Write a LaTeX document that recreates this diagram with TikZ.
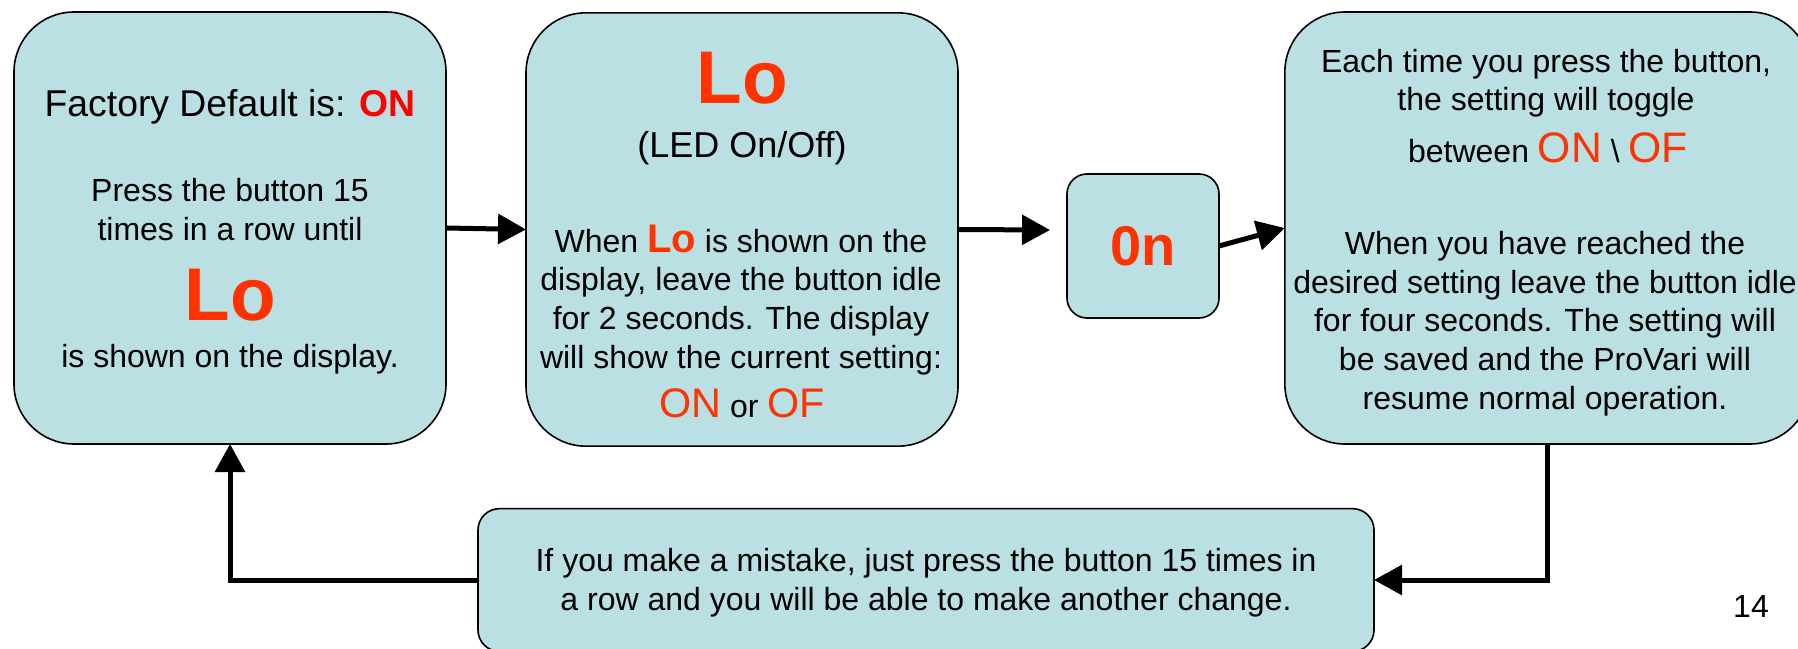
\documentclass[tikz,border=0pt]{standalone}
\usepackage{fontspec}
\setmainfont{Liberation Sans}
\usetikzlibrary{arrows.meta}
\definecolor{boxfill}{RGB}{186,224,227}
\definecolor{lored}{RGB}{255,51,0}
\definecolor{onred}{RGB}{255,0,0}
\begin{document}
\begin{tikzpicture}[x=0.75pt, y=-0.75pt,
      box/.style = {draw, line width=1.2pt, fill=boxfill, rounded corners=45pt,
                    outer sep=0pt, inner sep=0pt},
      txt/.style = {font=\fontsize{24}{29}\selectfont, align=center, anchor=base, inner sep=0pt},
      big/.style = {txt, font=\fontsize{56}{60}\selectfont\bfseries, text=lored},
      arr/.style = {line width=3.75pt, -{Triangle[length=21pt, width=22pt]}}]
    \useasboundingbox (0,0) rectangle (1798,649);

    % boxes
    \node[box, minimum width=324pt, minimum height=324pt] (start) at (230,228) {};
    \node[box, minimum width=324pt, minimum height=325pt] (lo) at (742,229.5) {};
    \node[box, rounded corners=15pt, minimum width=114pt, minimum height=108pt,
          font=\fontsize{42}{50}\selectfont\bfseries, text=lored] (on) at (1143,246) {0n};
    \node[box, minimum width=394pt, minimum height=324pt] (toggle) at (1547.5,228) {};
    \node[box, rounded corners=16pt, minimum width=672pt, minimum height=107pt] (mistake) at (926,580) {};
    \coordinate (gap) at (1050,230);

    % texts of the first box (multi-line nodes sit on their last line)
    \node[txt, font=\fontsize{28}{34}\selectfont] (s1) at (230,117) {Factory Default is: \textbf{\color{onred}ON}};
    \node[txt] (s2) at (230,240) {Press the button 15\\times in a row until};
    \node[big] (s3) at (230,320) {Lo};
    \node[txt] (s4) at (230,367) {is shown on the display.};

    % texts of the second box
    \node[big] (l1) at (742,104) {Lo};
    \node[txt, font=\fontsize{27}{32}\selectfont] (l2) at (742,157) {(LED On/Off)};
    \node[txt] (l3) at (741,368) {When {\fontsize{30}{30}\selectfont\bfseries\color{lored}Lo} is shown on the\\
      display, leave the button idle\\for 2 seconds. The display\\will show the current setting:};
    \node[txt] (l4) at (742,417) {{\fontsize{31}{31}\selectfont\color{lored}ON} or {\fontsize{31}{31}\selectfont\color{lored}OF}};

    % texts of the fourth box
    \node[txt] (g1) at (1546,111) {Each time you press the button,\\the setting will toggle};
    \node[txt] (g2) at (1548,162) {between {\fontsize{32}{32}\selectfont\color{lored}ON} \textbackslash{} {\fontsize{32}{32}\selectfont\color{lored}OF}};
    \node[txt] (g3) at (1545,409) {When you have reached the\\desired setting leave the button idle\\
      for four seconds. The setting will\\be saved and the ProVari will\\resume normal operation.};

    % bottom box and page number
    \node[txt] (m1) at (926,610) {If you make a mistake, just press the button 15 times in\\a row and you will be able to make another change.};
    \node[txt] (page) at (1751,617) {14};

    % arrows
    \draw[arr] (start.east) -- (lo.west);
    \draw[arr] (lo.east) -- (gap);
    \draw[arr] (on.east) -- (toggle.west);
    \draw[arr] (toggle.south) |- (mistake.east);
    \draw[arr] (mistake.west) -| (start.south);

  \end{tikzpicture}
\end{document}
